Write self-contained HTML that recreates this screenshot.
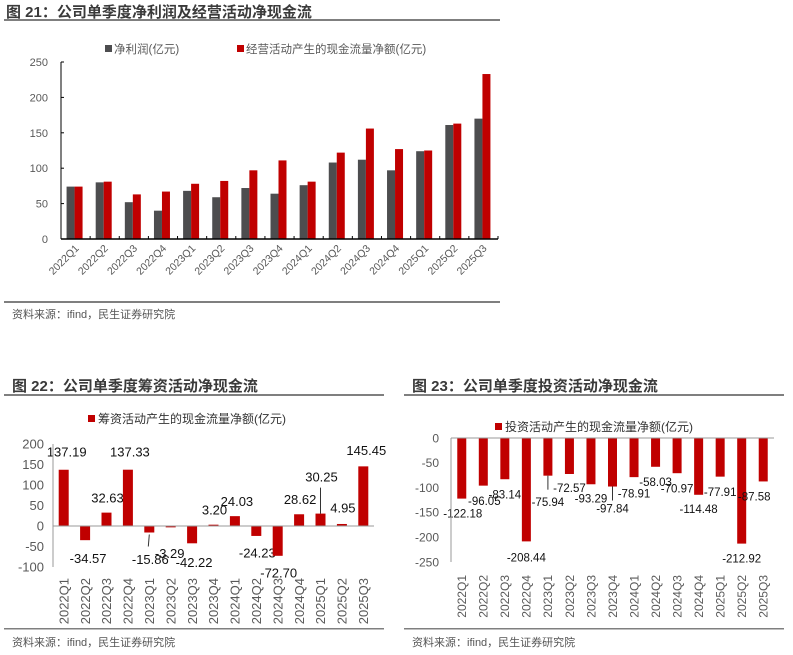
<!DOCTYPE html>
<html><head><meta charset="utf-8"><style>
body{margin:0;background:#fff}
svg{display:block;font-family:"Liberation Sans","Noto Sans CJK SC",sans-serif}
</style></head><body>
<svg id="s" width="793" height="655" viewBox="0 0 793 655" xmlns="http://www.w3.org/2000/svg">
<g>
<text x="6" y="17" font-size="15" font-weight="bold" fill="#3a3a3a">图 21：公司单季度净利润及经营活动净现金流</text>
<rect x="4" y="19" width="496" height="2" fill="#7f7f7f"/>
<rect x="4" y="301" width="496" height="2" fill="#7f7f7f"/>
<text x="12" y="318" font-size="11" fill="#555">资料来源：ifind，民生证券研究院</text>
<g id="c1"></g>
</g>
<g>
<text x="12" y="391" font-size="15" font-weight="bold" fill="#3a3a3a">图 22：公司单季度筹资活动净现金流</text>
<rect x="4" y="394" width="380" height="2" fill="#7f7f7f"/>
<rect x="4" y="628" width="380" height="1.5" fill="#7f7f7f"/>
<text x="12" y="646" font-size="11" fill="#555">资料来源：ifind，民生证券研究院</text>
<g id="c2"></g>
</g>
<g>
<text x="412" y="391" font-size="15" font-weight="bold" fill="#3a3a3a">图 23：公司单季度投资活动净现金流</text>
<rect x="404" y="394" width="380" height="2" fill="#7f7f7f"/>
<rect x="404" y="628" width="380" height="1.5" fill="#7f7f7f"/>
<text x="412" y="646" font-size="11" fill="#555">资料来源：ifind，民生证券研究院</text>
<g id="c3"></g>
</g>
</svg>
<script>
const categories=["2022Q1","2022Q2","2022Q3","2022Q4","2023Q1","2023Q2","2023Q3","2023Q4","2024Q1","2024Q2","2024Q3","2024Q4","2025Q1","2025Q2","2025Q3"];
const netProfit=[74,80,52,40,68,59,72,64,76,108,112,97,124,161,170];
const operatingCF=[74,81,63,67,78,82,97,111,81,122,156,127,125,163,233];
const ticks1=[0,50,100,150,200,250];
const financingCF=[137.19,-34.57,32.63,137.33,-15.86,-3.29,-42.22,3.20,24.03,-24.23,-72.70,28.62,30.25,4.95,145.45];
const ticks2=[-100,-50,0,50,100,150,200];
const investingCF=[-122.18,-96.05,-83.14,-208.44,-75.94,-72.57,-93.29,-97.84,-78.91,-58.03,-70.97,-114.48,-77.91,-212.92,-87.58];
const ticks3=[-250,-200,-150,-100,-50,0];
// label offsets (styling only)
const lab2dx=[3,3,1,2,1,-1,2,1,2,1,1,1,1,1,3];
const lab2dy=[-18,18,-15,-18,27,26,19,-15,-15,17,17,-15,-37,-16,-16];
const lab3dx=[1,1,0,0,0,0,0,0,0,0,0,0,0,0,-9];
const lab3dy=[15,15,15,16,26,14,14,22,16,15,15,14,15,15,15];
const NS="http://www.w3.org/2000/svg";
function el(p,t,a,txt){const e=document.createElementNS(NS,t);for(const k in a)e.setAttribute(k,a[k]);if(txt!==undefined)e.textContent=txt;p.appendChild(e);return e;}
const RED="#c00000",GRAY="#4d4d4f";

// Chart 21
(function(){
 const g=document.getElementById('c1');
 const x0=61,x1=498,y0=239,yTop=62,max=250;
 const y=v=>y0-(v/max)*(y0-yTop);
 const bw=(x1-x0)/categories.length;
 const xc=i=>x0+bw*i+bw/2-1;
 ticks1.forEach(t=>{const e=el(g,'text',{x:48,y:y(t)+4,'font-size':11,fill:'#595959','text-anchor':'end'},String(t));
 
 
 const tk=el(g,'line',{x1:x0,x2:x0+3,y1:y(t),y2:y(t),stroke:'#000','stroke-width':1});
 
 });
 categories.forEach((c,i)=>{
  const b1=el(g,'rect',{x:xc(i)-8,y:y(netProfit[i]),width:8,height:y0-y(netProfit[i]),fill:GRAY});
  
  
  const b2=el(g,'rect',{x:xc(i),y:y(operatingCF[i]),width:8,height:y0-y(operatingCF[i]),fill:RED});
  
  
  const t=el(g,'text',{x:xc(i)+5,y:y0+10,'font-size':10.5,fill:'#595959','text-anchor':'end',transform:`rotate(-45 ${xc(i)+5} ${y0+10})`},c);
  
  
  const tk=el(g,'line',{x1:x0+bw*(i+1),x2:x0+bw*(i+1),y1:y0,y2:y0-3,stroke:'#000'});
  
  
 });
 const ax=el(g,'line',{x1:x0,x2:x0,y1:yTop,y2:y0,stroke:'#000','stroke-width':1});
 
 
 const bx=el(g,'line',{x1:x0,x2:x1,y1:y0,y2:y0,stroke:'#000','stroke-width':1.5});
 
 
 const l1=el(g,'rect',{x:105,y:45,width:7,height:7,fill:GRAY});
 
 
 const lt1=el(g,'text',{x:114,y:53,'font-size':11.5,fill:'#595959'},'净利润(亿元)');
 
 
 const l2=el(g,'rect',{x:237,y:45,width:7,height:7,fill:RED});
 
 
 const lt2=el(g,'text',{x:246,y:53,'font-size':11.5,fill:'#595959'},'经营活动产生的现金流量净额(亿元)');
 
 
})();

function singleChart(id,data,ticks,opt,dx,dy){
 const g=document.getElementById(id);
 const {x0,x1,yMax,yMin,pMax,pMin,bw0,fs,tfs,tickGap,labY,legX,legY,legText}=opt;
 const y=v=>yMax+(pMax-v)/(pMax-pMin)*(yMin-yMax);
 const y0=y(0);
 const bw=(x1-x0)/categories.length;
 const xc=i=>x0+bw*i+bw/2;
 ticks.forEach(t=>{const e=el(g,'text',{x:x0-tickGap,y:y(t)+tfs*0.36,'font-size':tfs,fill:'#595959','text-anchor':'end'},String(t));
  
  });
 data.forEach((v,i)=>{
  const b=el(g,'rect',{x:xc(i)-bw0/2,y:Math.min(y(v),y0),width:bw0,height:Math.abs(y(v)-y0),fill:RED});
  
  
  const ly=y(v)+dy[i];
  const t=el(g,'text',{x:xc(i)+dx[i],y:ly+fs*0.36,'font-size':fs,fill:'#111','text-anchor':'middle'},v.toFixed(2));
  
  
  const xt=el(g,'text',{x:xc(i)+tfs*0.36,y:labY,'font-size':tfs,fill:'#595959','text-anchor':'end',transform:`rotate(-90 ${xc(i)+tfs*0.36} ${labY})`},categories[i]);
  
  
 });
 const ax=el(g,'line',{x1:x0,x2:x0,y1:y(pMax),y2:y(pMin),stroke:'#999','stroke-width':1});
 
 
 const bx=el(g,'line',{x1:x0,x2:x1,y1:y0,y2:y0,stroke:'#999','stroke-width':1});
 
 
 const ls=el(g,'rect',{x:legX,y:legY-4,width:7,height:7,fill:RED});
 
 
 const lt=el(g,'text',{x:legX+10,y:legY+4,'font-size':12,fill:'#333'},legText);
 
 
 return {y,xc};
}
const r2=singleChart('c2',financingCF,ticks2,{x0:53,x1:374,yMax:444,yMin:567,pMax:200,pMin:-100,bw0:10,fs:13,tfs:13,tickGap:9,labY:578,legX:88,legY:419,legText:'筹资活动产生的现金流量净额(亿元)'},lab2dx,lab2dy);
const r3=singleChart('c3',investingCF,ticks3,{x0:451,x1:774,yMax:438,yMin:562,pMax:0,pMin:-250,bw0:9,fs:11.5,tfs:12,tickGap:12,labY:575,legX:495,legY:427,legText:'投资活动产生的现金流量净额(亿元)'},lab3dx,lab3dy);
// leader lines
(function(){
 const g2=document.getElementById('c2');
 const l1=el(g2,'line',{x1:r2.xc(4),x2:r2.xc(4)-1,y1:r2.y(financingCF[4])+2,y2:r2.y(financingCF[4])+14,stroke:'#333'});
 
 
 const l2=el(g2,'line',{x1:r2.xc(12),x2:r2.xc(12),y1:r2.y(financingCF[12]),y2:r2.y(financingCF[12])-26,stroke:'#333'});
 
 
 const g3=document.getElementById('c3');
 [4,7].forEach(i=>{
  const l=el(g3,'line',{x1:r3.xc(i),x2:r3.xc(i),y1:r3.y(investingCF[i]),y2:r3.y(investingCF[i])+14,stroke:'#333'});
  
  
 });
})();
</script>
</body></html>
